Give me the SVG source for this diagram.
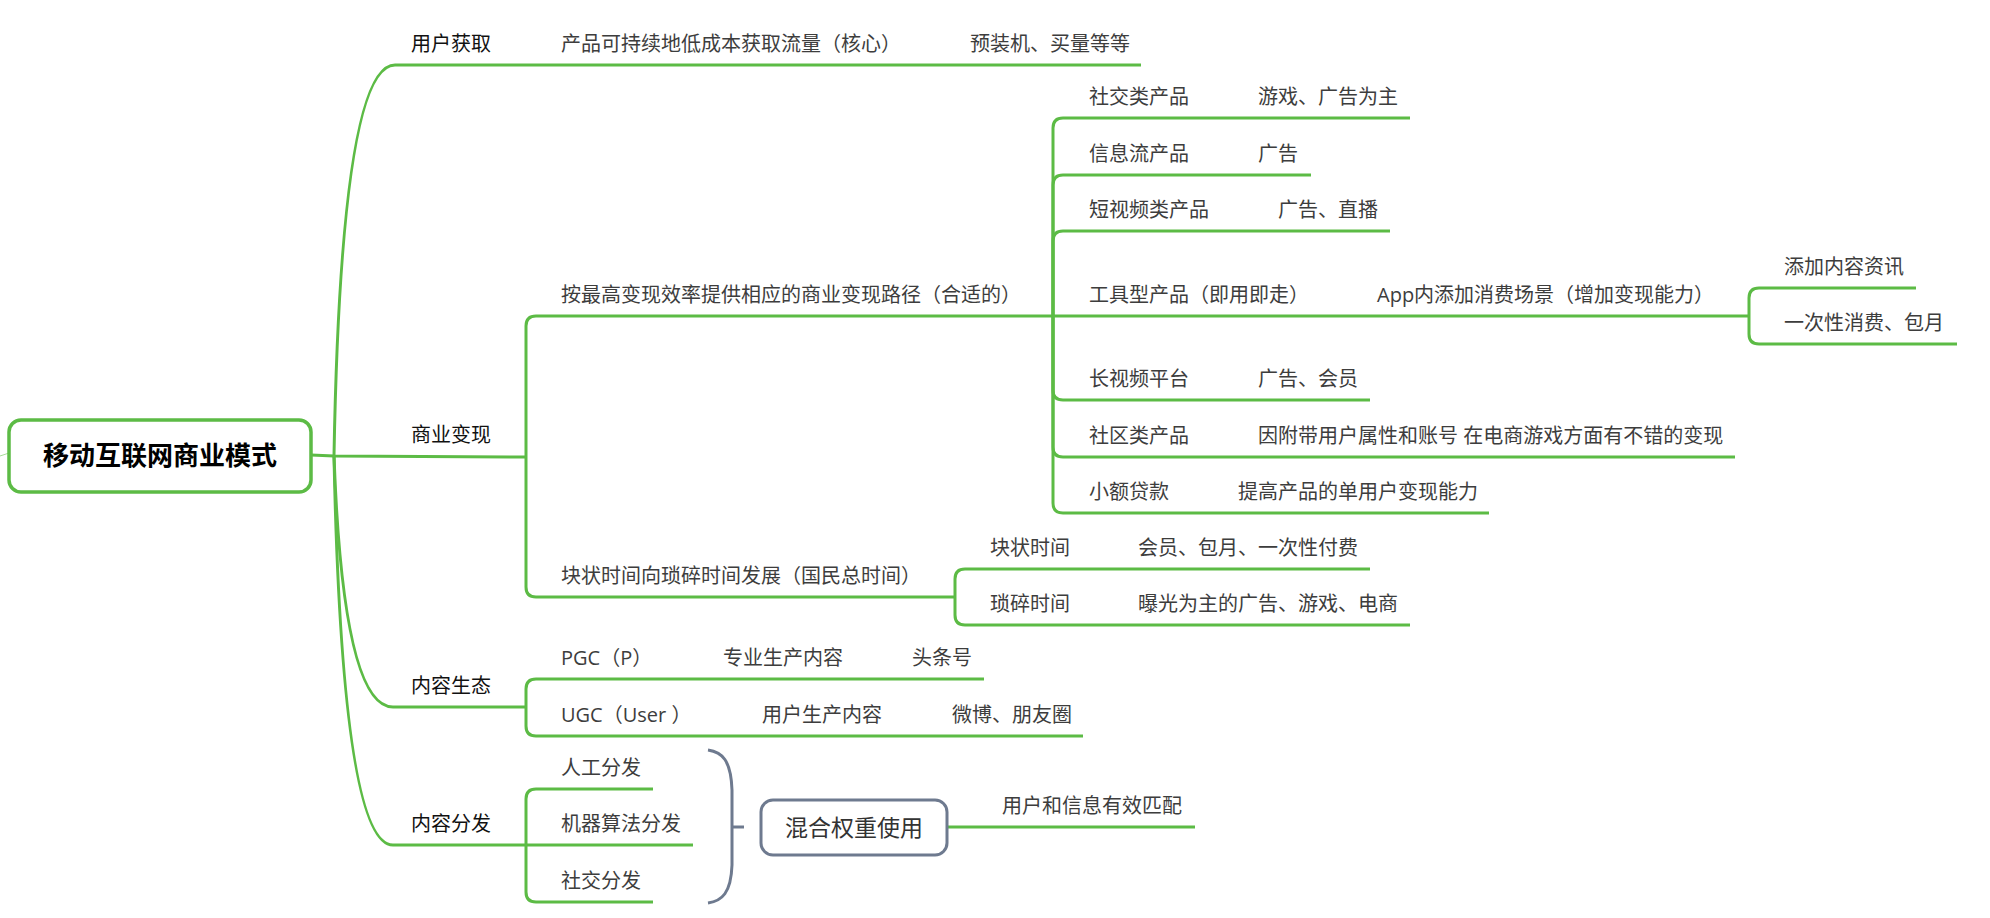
<svg xmlns="http://www.w3.org/2000/svg" width="1990" height="918" viewBox="0 0 1990 918">
<style>
.t{font-family:"Open Sans","Noto Sans CJK SC",sans-serif;font-size:20px;fill:#3d3d3d}
.t1{fill:#111}
.root{font-family:"Open Sans","Noto Sans CJK SC",sans-serif;font-size:26px;font-weight:bold;fill:#000;text-anchor:middle}
.sum{font-family:"Open Sans","Noto Sans CJK SC",sans-serif;font-size:23px;fill:#333;text-anchor:middle}
.c{fill:none;stroke:#5cbb45;stroke-width:3}
.g{fill:none;stroke:#6e7a8f;stroke-width:3}
</style>
<rect width="1990" height="918" fill="#fff"/>
<g id="connectors">
<path d="M0 456 L9 453" fill="none" stroke="#a9dc9a" stroke-width="1"/>
<path class="c" d="M311 455 L334 456 L526 457"/>
<path class="c" d="M334 456 Q341 65 395 65 L1141 65"/>
<path class="c" d="M334 456 Q343 707 393 707 L526 707"/>
<path class="c" d="M334 456 Q342 845 393 845 L526 845"/>
<path class="c" d="M526 457 L526 326 Q526 316 536 316 L1053 316"/>
<path class="c" d="M526 457 L526 587 Q526 597 536 597 L955 597"/>
<path class="c" d="M1053 316 L1053 128 Q1053 118 1063 118 L1410 118"/>
<path class="c" d="M1053 316 L1053 185 Q1053 175 1063 175 L1311 175"/>
<path class="c" d="M1053 316 L1053 241 Q1053 231 1063 231 L1390 231"/>
<path class="c" d="M1053 316 L1749 316"/>
<path class="c" d="M1053 316 L1053 390 Q1053 400 1063 400 L1370 400"/>
<path class="c" d="M1053 316 L1053 447 Q1053 457 1063 457 L1735 457"/>
<path class="c" d="M1053 316 L1053 503 Q1053 513 1063 513 L1489 513"/>
<path class="c" d="M1749 316 L1749 298 Q1749 288 1759 288 L1916 288"/>
<path class="c" d="M1749 316 L1749 334 Q1749 344 1759 344 L1957 344"/>
<path class="c" d="M955 597 L955 579 Q955 569 965 569 L1370 569"/>
<path class="c" d="M955 597 L955 615 Q955 625 965 625 L1410 625"/>
<path class="c" d="M526 707 L526 689 Q526 679 536 679 L984 679"/>
<path class="c" d="M526 707 L526 726 Q526 736 536 736 L1083 736"/>
<path class="c" d="M526 845 L526 799 Q526 789 536 789 L653 789"/>
<path class="c" d="M526 845 L693 845"/>
<path class="c" d="M526 845 L526 892 Q526 902 536 902 L653 902"/>
<path class="g" d="M708 750 C722 752 731 760 732 790 L732 865 C731 893 722 901 708 903"/>
<path class="g" d="M732 827 L744 827"/>
<path class="c" d="M947 827 L1195 827"/>
</g>
<g id="root">
<rect x="9" y="420" width="302" height="72" rx="12" fill="#fff" stroke="#5cbb45" stroke-width="3.5"/>
<text class="root" x="160" y="465">移动互联网商业模式</text>
</g>
<g id="n-yonghuhuoqu"><text class="t t1" x="411" y="51">用户获取</text></g>
<g id="n-chanpin"><text class="t" x="561" y="51">产品可持续地低成本获取流量（核心）</text></g>
<g id="n-yuzhuangji"><text class="t" x="970" y="51">预装机、买量等等</text></g>
<g id="n-shangyebianxian"><text class="t t1" x="411" y="442">商业变现</text></g>
<g id="n-anzuigao"><text class="t" x="561" y="302">按最高变现效率提供相应的商业变现路径（合适的）</text></g>
<g id="n-shejiao"><text class="t" x="1089" y="104">社交类产品</text></g>
<g id="n-shejiao-1"><text class="t" x="1258" y="104">游戏、广告为主</text></g>
<g id="n-xinxiliu"><text class="t" x="1089" y="161">信息流产品</text></g>
<g id="n-xinxiliu-1"><text class="t" x="1258" y="161">广告</text></g>
<g id="n-duanshipin"><text class="t" x="1089" y="217">短视频类产品</text></g>
<g id="n-duanshipin-1"><text class="t" x="1278" y="217">广告、直播</text></g>
<g id="n-gongju"><text class="t" x="1089" y="302">工具型产品（即用即走）</text></g>
<g id="n-gongju-1"><text class="t" x="1377" y="302">App内添加消费场景（增加变现能力）</text></g>
<g id="n-tianjia"><text class="t" x="1784" y="274">添加内容资讯</text></g>
<g id="n-yicixing"><text class="t" x="1784" y="330">一次性消费、包月</text></g>
<g id="n-changshipin"><text class="t" x="1089" y="386">长视频平台</text></g>
<g id="n-changshipin-1"><text class="t" x="1258" y="386">广告、会员</text></g>
<g id="n-shequ"><text class="t" x="1089" y="443">社区类产品</text></g>
<g id="n-shequ-1"><text class="t" x="1258" y="443">因附带用户属性和账号 在电商游戏方面有不错的变现</text></g>
<g id="n-xiaoe"><text class="t" x="1089" y="499">小额贷款</text></g>
<g id="n-xiaoe-1"><text class="t" x="1238" y="499">提高产品的单用户变现能力</text></g>
<g id="n-kuaizhuang"><text class="t" x="561" y="583">块状时间向琐碎时间发展（国民总时间）</text></g>
<g id="n-kuaizhuangshijian"><text class="t" x="990" y="555">块状时间</text></g>
<g id="n-kuaizhuangshijian-1"><text class="t" x="1138" y="555">会员、包月、一次性付费</text></g>
<g id="n-suosui"><text class="t" x="990" y="611">琐碎时间</text></g>
<g id="n-suosui-1"><text class="t" x="1138" y="611">曝光为主的广告、游戏、电商</text></g>
<g id="n-neirongshengtai"><text class="t t1" x="411" y="693">内容生态</text></g>
<g id="n-pgc"><text class="t" x="561" y="665">PGC（P）</text></g>
<g id="n-pgc-1"><text class="t" x="723" y="665">专业生产内容</text></g>
<g id="n-pgc-2"><text class="t" x="912" y="665">头条号</text></g>
<g id="n-ugc"><text class="t" x="561" y="722">UGC（User ）</text></g>
<g id="n-ugc-1"><text class="t" x="762" y="722">用户生产内容</text></g>
<g id="n-ugc-2"><text class="t" x="952" y="722">微博、朋友圈</text></g>
<g id="n-neirongfenfa"><text class="t t1" x="411" y="831">内容分发</text></g>
<g id="n-rengong"><text class="t" x="561" y="775">人工分发</text></g>
<g id="n-jiqi"><text class="t" x="561" y="831">机器算法分发</text></g>
<g id="n-shejiaofenfa"><text class="t" x="561" y="888">社交分发</text></g>
<g id="n-hunhe">
<rect x="761" y="800" width="186" height="55" rx="12" fill="#fff" stroke="#6e7a8f" stroke-width="3"/>
<text class="sum" x="854" y="836">混合权重使用</text>
</g>
<g id="n-pipei"><text class="t" x="1002" y="813">用户和信息有效匹配</text></g>
</svg>
